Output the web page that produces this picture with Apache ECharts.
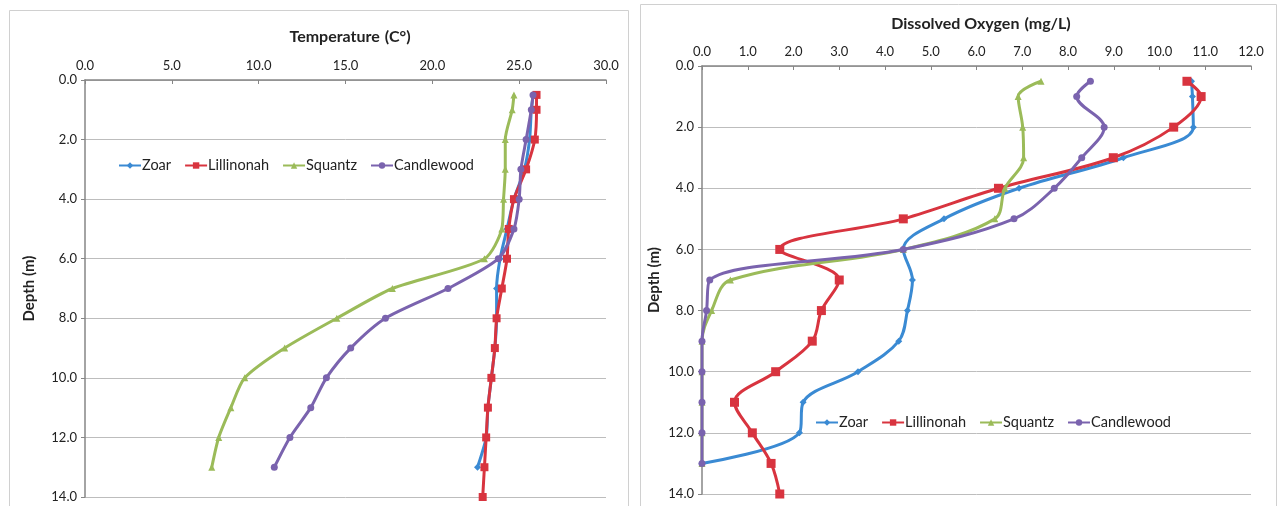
<!DOCTYPE html>
<html><head><meta charset="utf-8">
<script src="https://cdn.jsdelivr.net/npm/echarts@6/dist/echarts.min.js"></script>
<style>html,body{margin:0;padding:0;background:#fff}#c{width:1279px;height:506px}</style>
</head><body><div id="c"></div>
<script>
const seriesNames = ['Zoar','Lillinonah','Squantz','Candlewood'];
const colors = ['#3A8AD3','#D8343F','#9BBB59','#7A63AE'];
const symbols = ['diamond','rect','triangle','circle'];

// Temperature chart
const tempDepths = [0.5,1,2,3,4,5,6,7,8,9,10,11,12,13,14];
const tempZoar       = [25.8,25.7,25.6,25.3,24.7,24.3,23.9,23.7,23.7,23.6,23.4,23.2,23.1,22.6];
const tempLillinonah = [26.0,26.0,25.9,25.4,24.7,24.4,24.3,24.0,23.7,23.6,23.4,23.2,23.1,23.0,22.9];
const tempSquantz    = [24.7,24.6,24.2,24.2,24.1,24.0,23.0,17.7,14.5,11.5,9.2,8.4,7.7,7.3];
const tempCandlewood = [25.8,25.7,25.4,25.1,25.0,24.7,23.8,20.9,17.3,15.3,13.9,13.0,11.8,10.9];
const tempTicks = ['0.0','5.0','10.0','15.0','20.0','25.0','30.0'];

// Dissolved oxygen chart
const doDepths = [0.5,1,2,3,4,5,6,7,8,9,10,11,12,13,14];
const doZoar       = [10.7,10.72,10.74,9.21,6.93,5.29,4.4,4.6,4.49,4.3,3.41,2.21,2.13,0.0];
const doLillinonah = [10.6,10.91,10.31,8.99,6.48,4.4,1.7,3.0,2.61,2.41,1.61,0.71,1.1,1.51,1.7];
const doSquantz    = [7.41,6.91,7.01,7.03,6.62,6.4,4.4,0.62,0.21,0.0,0.0,0.0,0.0,0.0];
const doCandlewood = [8.49,8.19,8.79,8.3,7.7,6.82,4.4,0.17,0.1,0.0,0.0,0.0,0.0,0.0];
const depthTicks = ['0.0','2.0','4.0','6.0','8.0','10.0','12.0','14.0'];

const tempSets = [tempZoar,tempLillinonah,tempSquantz,tempCandlewood];
const doSets = [doZoar,doLillinonah,doSquantz,doCandlewood];
const pairs = (vals, depths) => vals.map((v,i)=>[v, depths[i]]);

const FONT = 'Lato, "Open Sans", sans-serif';
const axisGrey = '#868686';

function xAxis(gridIndex, max, interval) {
  return {
    gridIndex, type:'value', position:'top', min:0, max, interval,
    axisLine:{show:true, onZero:false, lineStyle:{color:axisGrey, width:1.5}},
    axisTick:{show:true, inside:true, length:4, lineStyle:{color:axisGrey}},
    axisLabel:{color:'#222', fontFamily:FONT, fontSize:13, margin:8, formatter:v=>v.toFixed(1)},
    splitLine:{show:false}
  };
}
function yAxis(gridIndex, nameGap) {
  return {
    gridIndex, type:'value', inverse:true, min:0, max:14, interval:2,
    name:'Depth (m)', nameLocation:'middle', nameGap, nameRotate:90,
    nameTextStyle:{fontFamily:FONT, fontWeight:'bold', fontSize:15, color:'#222'},
    axisLine:{show:true, onZero:false, lineStyle:{color:axisGrey, width:1.5}},
    axisTick:{show:true, length:4, lineStyle:{color:axisGrey}},
    axisLabel:{color:'#222', fontFamily:FONT, fontSize:13, margin:8, formatter:v=>v.toFixed(1)},
    splitLine:{show:true, lineStyle:{color:'#BDBDBD', width:1}}
  };
}

const series = [];
seriesNames.forEach((n,i)=>{
  series.push({
    name:n, type:'line', xAxisIndex:0, yAxisIndex:0, data:pairs(tempSets[i], tempDepths),
    smooth:0.25, symbol:symbols[i], symbolSize: symbols[i]==='rect'?8:7, showSymbol:true,
    lineStyle:{color:colors[i], width:3}, itemStyle:{color:colors[i]}, z: 2+i
  });
});
seriesNames.forEach((n,i)=>{
  series.push({
    name:n, type:'line', xAxisIndex:1, yAxisIndex:1, data:pairs(doSets[i], doDepths),
    smooth:0.35, symbol:symbols[i], symbolSize: symbols[i]==='rect'?9:7, showSymbol:true,
    lineStyle:{color:colors[i], width:3}, itemStyle:{color:colors[i]}, z: 2+i
  });
});

const legendCommon = {
  data: seriesNames, itemWidth:22, itemHeight:8, itemGap:13,
  textStyle:{fontFamily:FONT, fontSize:14.5, color:'#222', padding:[0,0,0,-4]}
};

const chart = echarts.init(document.getElementById('c'), null, {renderer:'canvas'});
chart.setOption({
  animation:false,
  backgroundColor:'#fff',
  graphic:[
    {type:'rect', shape:{x:9.5, y:10.5, width:619, height:510}, style:{fill:'none', stroke:'#D0D0D0', lineWidth:1}, silent:true},
    {type:'rect', shape:{x:640.5, y:4.5, width:636, height:520}, style:{fill:'none', stroke:'#D0D0D0', lineWidth:1}, silent:true}
  ],
  title:[
    {text:'{b|Temperature} {n|(C°)}', left:345, top:23, textAlign:'center',
      textStyle:{rich:{b:{fontFamily:FONT, fontWeight:'bold', fontSize:16, color:'#222'}, n:{fontFamily:FONT, fontSize:16, color:'#222'}}}},
    {text:'{b|Dissolved Oxygen} {n|(mg/L)}', left:976, top:10, textAlign:'center',
      textStyle:{rich:{b:{fontFamily:FONT, fontWeight:'bold', fontSize:16, color:'#222'}, n:{fontFamily:FONT, fontSize:16, color:'#222'}}}}
  ],
  legend:[
    Object.assign({left:113, top:153}, legendCommon),
    Object.assign({left:810, top:410}, legendCommon)
  ],
  grid:[
    {left:85, right:1279-606, top:80, bottom:506-497},
    {left:702, right:1279-1251, top:66, bottom:506-494}
  ],
  xAxis:[xAxis(0,30,5), xAxis(1,12,1)],
  yAxis:[yAxis(0,48), yAxis(1,40)],
  series
});
</script></body></html>
